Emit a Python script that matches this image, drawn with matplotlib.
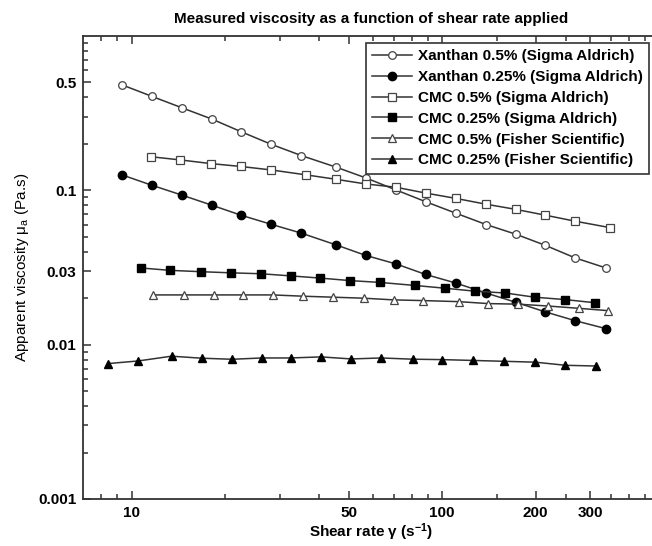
import numpy as np
import matplotlib
matplotlib.use("Agg")
import matplotlib.pyplot as plt
from matplotlib.ticker import FixedLocator, NullFormatter, LogLocator

plt.rcParams['font.family'] = ['Liberation Sans Narrow', 'Liberation Sans', 'DejaVu Sans']
plt.rcParams['mathtext.default'] = 'regular'

# shear rate (1/s) and apparent viscosity (Pa.s)
x_xan = [9.3, 11.6, 14.5, 18.1, 22.5, 28.1, 35.2, 45.7, 56.7, 71.2, 88.5,
         110.5, 138.6, 173, 215, 268, 337]
y_xan05 = [0.483, 0.407, 0.343, 0.290, 0.240, 0.199, 0.168, 0.141, 0.1205,
           0.1004, 0.0844, 0.0712, 0.060, 0.0519, 0.044, 0.0365, 0.0314]
y_xan025 = [0.126, 0.108, 0.0932, 0.0802, 0.069, 0.0603, 0.0528, 0.0442,
            0.0379, 0.0333, 0.0285, 0.0251, 0.0216, 0.0188, 0.0163, 0.0143, 0.0127]

x_cmc05 = [11.55, 14.3, 18.0, 22.5, 28.1, 36.4, 45.4, 56.7, 71.2, 88.5,
           110.5, 138, 173, 215, 268, 346]
y_cmc05 = [0.165, 0.1575, 0.149, 0.1427, 0.1356, 0.126, 0.118, 0.110, 0.1046,
           0.096, 0.0887, 0.0814, 0.0752, 0.069, 0.0631, 0.0574]

x_cmc025 = [10.7, 13.3, 16.7, 20.9, 26.1, 32.5, 40.5, 50.6, 63.2, 81.5,
            102.3, 127.8, 160, 198.6, 248, 310]
y_cmc025 = [0.0314, 0.0303, 0.0297, 0.0292, 0.0288, 0.0279, 0.027, 0.026,
            0.0253, 0.0242, 0.0232, 0.0222, 0.0216, 0.0203, 0.0196, 0.0187]

x_fis05 = [11.7, 14.7, 18.4, 22.9, 28.5, 35.7, 44.6, 55.9, 69.9, 86.7,
           113, 141, 175, 219, 275, 343]
y_fis05 = [0.0210, 0.0210, 0.0210, 0.0210, 0.0210, 0.0206, 0.0203, 0.0200,
           0.0195, 0.0193, 0.0190, 0.01845, 0.0183, 0.0178, 0.0172, 0.0166]

x_fis025 = [8.4, 10.5, 13.45, 16.8, 21.1, 26.3, 32.5, 40.8, 51, 63.7, 80.3,
            100, 126, 158.5, 199.5, 249.5, 313]
y_fis025 = [0.00754, 0.00784, 0.00842, 0.00817, 0.00804, 0.0082, 0.0082,
            0.00833, 0.00808, 0.0082, 0.00805, 0.008, 0.0079, 0.0078, 0.0077,
            0.00735, 0.00727]

labels = ['Xanthan 0.5% (Sigma Aldrich)', 'Xanthan 0.25% (Sigma Aldrich)',
          'CMC 0.5% (Sigma Aldrich)', 'CMC 0.25% (Sigma Aldrich)',
          'CMC 0.5% (Fisher Scientific)', 'CMC 0.25% (Fisher Scientific)']

x_major = [10, 50, 100, 200, 300]
x_minor = [8, 9, 20, 30, 40, 60, 70, 80, 90, 150, 250, 350, 400, 450]
y_major = [0.001, 0.01, 0.03, 0.1, 0.5]

lc = '#333333'
fig = plt.figure(figsize=(6.52, 5.46), dpi=100)
ax = fig.add_axes([0.128, 0.0861, 0.883, 0.848])

ax.plot(x_xan, y_xan05, '-o', color=lc, lw=1.1, ms=5.5, mfc='white', mec='#444444', mew=0.9, label=labels[0])
ax.plot(x_xan, y_xan025, '-o', color=lc, lw=1.1, ms=6, mfc='black', mec='black', label=labels[1])
ax.plot(x_cmc05, y_cmc05, '-s', color=lc, lw=1.1, ms=5.5, mfc='white', mec='#444444', mew=0.9, label=labels[2])
ax.plot(x_cmc025, y_cmc025, '-s', color=lc, lw=1.1, ms=6, mfc='black', mec='black', label=labels[3])
ax.plot(x_fis05, y_fis05, '-^', color=lc, lw=1.1, ms=5.5, mfc='white', mec='#444444', mew=0.9, label=labels[4])
ax.plot(x_fis025, y_fis025, '-^', color=lc, lw=1.1, ms=6, mfc='black', mec='black', label=labels[5])

ax.set_xscale('log')
ax.set_yscale('log')
ax.set_xlim(7, 500)
ax.set_ylim(0.001, 1)

ax.xaxis.set_major_locator(FixedLocator(x_major))
ax.xaxis.set_minor_locator(FixedLocator(x_minor))
ax.xaxis.set_minor_formatter(NullFormatter())
ax.set_xticklabels([str(v) for v in x_major])
ax.yaxis.set_major_locator(FixedLocator(y_major))
ax.yaxis.set_minor_locator(LogLocator(base=10, subs=np.arange(2, 10)))
ax.yaxis.set_minor_formatter(NullFormatter())
ax.set_yticklabels([str(v) for v in y_major])

ax.tick_params(which='both', direction='in', top=True, right=False, color=lc, width=1.1)
ax.tick_params(which='major', length=6, labelsize=11, pad=5)
ax.tick_params(which='minor', length=3.5)
for t in ax.get_xticklabels() + ax.get_yticklabels():
    t.set_fontweight('bold')
for s in ax.spines.values():
    s.set_color(lc)
    s.set_linewidth(1.3)

ax.set_title('Measured viscosity as a function of shear rate applied',
             fontsize=11, fontweight='bold', pad=9)
ax.set_xlabel('Shear rate γ (s$^{-1}$)', fontsize=11, fontweight='bold', labelpad=1)
ax.set_ylabel('Apparent viscosity μ$_a$ (Pa.s)', fontsize=11, labelpad=5)

leg = ax.legend(loc='upper right', bbox_to_anchor=(649 / 652, 1 - 43 / 546),
                bbox_transform=fig.transFigure, fancybox=False, framealpha=1,
                edgecolor=lc, fontsize=11, handlelength=2.6, labelspacing=0.45,
                borderpad=0.4, handletextpad=0.4, borderaxespad=0)
leg.get_frame().set_linewidth(1.2)
for t in leg.get_texts():
    t.set_fontweight('bold')

fig.savefig('out.png', dpi=100)
